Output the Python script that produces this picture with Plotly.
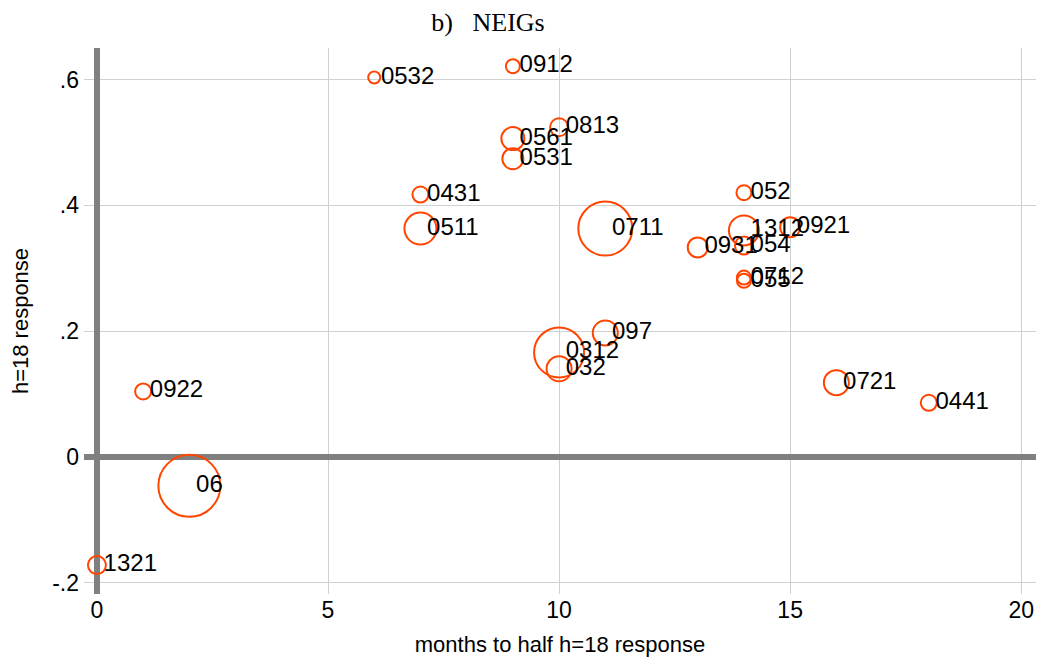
import plotly.graph_objects as go

labels = ["0532", "0912", "0813", "0561", "0531", "0431", "0511", "0711", "052", "1312",
          "0921", "054", "0931", "0712", "055", "097", "0312", "032", "0721", "0441",
          "0922", "06", "1321"]
months = [6, 9, 10, 9, 9, 7, 7, 11, 14, 14,
          15, 14, 13, 14, 14, 11, 10, 10, 16, 18,
          1, 2, 0]
response = [0.603, 0.621, 0.524, 0.506, 0.474, 0.417, 0.363, 0.363, 0.420, 0.360,
            0.365, 0.336, 0.333, 0.285, 0.280, 0.197, 0.166, 0.140, 0.118, 0.086,
            0.104, -0.046, -0.172]
weights = [12, 14, 18, 23, 21, 16, 32, 54, 15, 30,
           20, 18, 20, 14, 14, 25, 50, 25, 25, 16,
           16, 62, 18]

xticks = [0, 5, 10, 15, 20]
yticks = [-0.2, 0, 0.2, 0.4, 0.6]
yticklabels = ["-.2", "0", ".2", ".4", ".6"]

fig = go.Figure()
fig.add_trace(go.Scatter(
    x=months, y=response, mode="markers",
    marker=dict(size=weights, color="rgba(0,0,0,0)", opacity=1,
                line=dict(color="#ff4500", width=2)),
    hoverinfo="skip", showlegend=False,
))
fig.add_trace(go.Scatter(
    x=months, y=response, mode="text", text=[" " + s for s in labels],
    textposition="middle right",
    textfont=dict(family="Liberation Sans, Arial", size=24, color="black"),
    showlegend=False, hoverinfo="skip",
))

# page body has an 8px margin, so the figure is 8px smaller and margins shifted
fig.update_layout(
    width=1036, height=653,
    margin=dict(l=76, r=8, t=40, b=67, autoexpand=False),
    plot_bgcolor="white", paper_bgcolor="white",
    title=dict(text="b)   NEIGs", x=480 / 1036, xanchor="center", xref="container",
               y=1 - 14 / 653, yanchor="middle",
               font=dict(family="Liberation Serif, Times New Roman", size=26, color="black")),
    font=dict(family="Liberation Sans, Arial", color="black"),
)
fig.update_xaxes(
    range=[-0.28, 20.32], tickvals=xticks, ticktext=[str(v) for v in xticks],
    showgrid=True, gridcolor="#d0d0d0", gridwidth=1,
    zeroline=True, zerolinecolor="#808080", zerolinewidth=6,
    showline=False, ticks="", tickfont=dict(size=23), automargin=False,
    title=dict(text="months to half h=18 response", font=dict(size=22), standoff=14),
)
fig.update_yaxes(
    range=[-0.218, 0.65], tickvals=yticks, ticktext=yticklabels,
    showgrid=True, gridcolor="#d0d0d0", gridwidth=1,
    zeroline=True, zerolinecolor="#808080", zerolinewidth=6,
    showline=False, ticks="", tickfont=dict(size=23), automargin=True,
    ticklabelstandoff=4,
    title=dict(text="h=18 response", font=dict(size=22), standoff=22),
)

fig.write_html("out.html")
